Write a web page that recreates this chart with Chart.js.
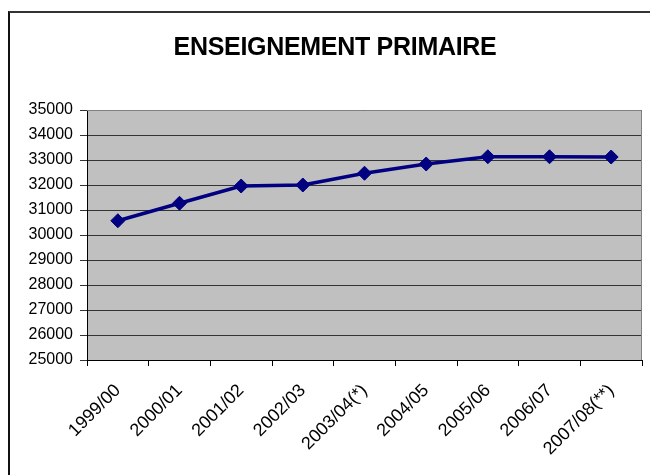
<!DOCTYPE html>
<html>
<head>
<meta charset="utf-8">
<script src="https://cdn.jsdelivr.net/npm/chart.js@4/dist/chart.umd.min.js"></script>
<style>
  html, body { margin: 0; padding: 0; width: 650px; height: 475px; overflow: hidden; background: #fff; }
  #frame { position: absolute; left: 8px; top: 11px; width: 900px; height: 700px; border-left: 2px solid #111; border-top: 2px solid #333; }
  #title { position: absolute; left: 0; width: 670px; top: 31px; text-align: center; font-family: "Liberation Sans", Arial, sans-serif; font-weight: bold; font-size: 25px; line-height: 30px; letter-spacing: -0.3px; color: #000; }
  #wrap { position: absolute; left: 0; top: 0; width: 650px; height: 475px; }
</style>
</head>
<body>
<div id="wrap"><canvas id="c" width="650" height="475"></canvas></div>
<div id="frame"></div>
<div id="title">ENSEIGNEMENT PRIMAIRE</div>
<script>
const categories = ["1999/00", "2000/01", "2001/02", "2002/03", "2003/04(*)", "2004/05", "2005/06", "2006/07", "2007/08(**)"];
const values = [30570, 31270, 31960, 32000, 32470, 32840, 33130, 33130, 33120];
const yMin = 25000;
const yMax = 35000;
const yStep = 1000;

const plotBg = {
  id: 'plotBg',
  beforeDraw(chart) {
    const a = chart.chartArea, ctx = chart.ctx;
    ctx.save();
    ctx.fillStyle = '#C0C0C0';
    ctx.fillRect(a.left, a.top, a.right - a.left, a.bottom - a.top);
    ctx.restore();
  },
  afterDatasetsDraw(chart) {
    const a = chart.chartArea, ctx = chart.ctx;
    ctx.save();
    ctx.strokeStyle = '#808080';
    ctx.lineWidth = 1;
    ctx.beginPath();
    ctx.moveTo(a.left, a.top + 0.5);
    ctx.lineTo(a.right - 0.5, a.top + 0.5);
    ctx.lineTo(a.right - 0.5, a.bottom);
    ctx.stroke();
    ctx.restore();
  }
};

new Chart(document.getElementById('c'), {
  type: 'line',
  data: {
    labels: categories,
    datasets: [{
      data: values,
      borderColor: '#000080',
      backgroundColor: '#000080',
      borderWidth: 3.5,
      pointStyle: 'rectRot',
      pointRadius: 7,
      pointBorderWidth: 1,
      pointBorderColor: '#000080',
      pointBackgroundColor: '#000080',
      tension: 0,
      fill: false
    }]
  },
  options: {
    responsive: false,
    animation: false,
    events: [],
    layout: { padding: { left: 0, right: 5, top: 110, bottom: 0 } },
    plugins: { legend: { display: false }, title: { display: false }, tooltip: { enabled: false } },
    scales: {
      x: {
        offset: true,
        grid: { offset: true, drawOnChartArea: false, drawTicks: true, tickLength: 6, color: '#000', lineWidth: 1 },
        border: { color: '#000', width: 1 },
        ticks: { color: '#000', font: { family: '"Liberation Sans", Arial, sans-serif', size: 18 }, maxRotation: 45, minRotation: 45, autoSkip: false, padding: 14 },
        afterFit(scale) { scale.height = 115; }
      },
      y: {
        min: yMin,
        max: yMax,
        grid: { color: '#333', lineWidth: 1, tickLength: 7, drawTicks: true },
        border: { color: '#000', width: 1 },
        ticks: { stepSize: yStep, color: '#000', font: { family: '"Liberation Sans", Arial, sans-serif', size: 16 }, padding: 7, callback: (v) => String(v) },
        afterFit(scale) { scale.width = 87; }
      }
    }
  },
  plugins: [plotBg]
});
</script>
</body>
</html>
